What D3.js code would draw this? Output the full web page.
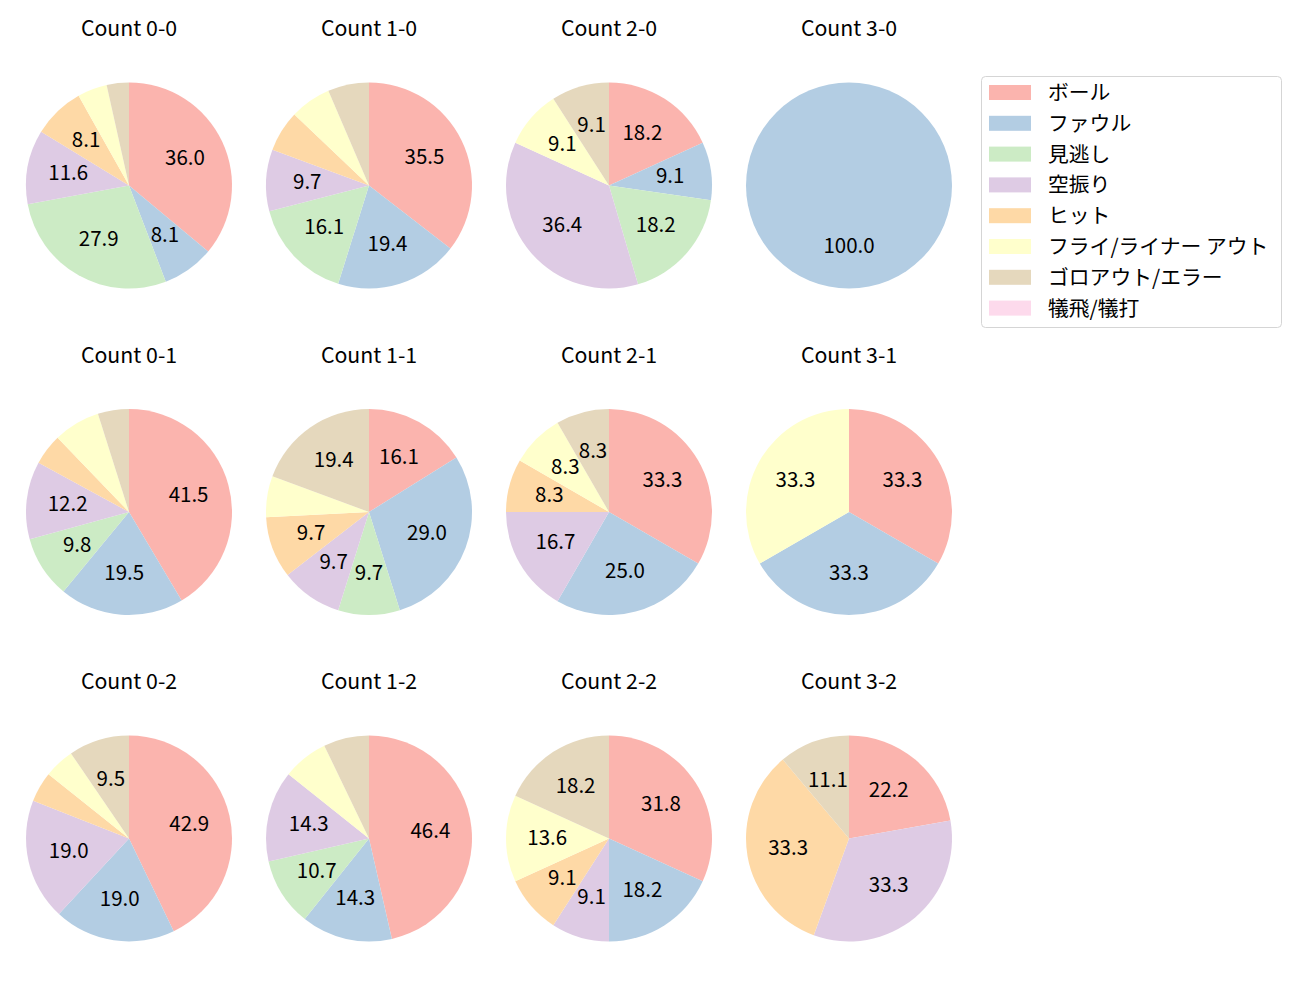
<!DOCTYPE html>
<html>
<head>
<meta charset="utf-8">
<script src="https://cdn.jsdelivr.net/npm/d3@7"></script>
<style>
  body { margin: 0; background: #fff; }
  svg { font-family: "Noto Sans CJK JP", "Noto Sans", sans-serif; }
</style>
</head>
<body>
<svg width="1300" height="1000"></svg>
<script>
// result categories, in pie order
const categories = ['ボール', 'ファウル', '見逃し', '空振り', 'ヒット', 'フライ/ライナー アウト', 'ゴロアウト/エラー', '犠飛/犠打']

// pitch counts (balls-strikes), grid order: rows = strikes, cols = balls
const counts = ['0-0', '1-0', '2-0', '3-0', '0-1', '1-1', '2-1', '3-1', '0-2', '1-2', '2-2', '3-2']

// number of pitches per category for each count
const values = [
  [31, 7, 24, 10, 7, 4, 3, 0],
  [11, 6, 5, 3, 2, 2, 2, 0],
  [2, 1, 2, 4, 0, 1, 1, 0],
  [0, 1, 0, 0, 0, 0, 0, 0],
  [17, 8, 4, 5, 2, 3, 2, 0],
  [5, 9, 3, 3, 3, 2, 6, 0],
  [4, 3, 0, 2, 1, 1, 1, 0],
  [1, 1, 0, 0, 0, 1, 0, 0],
  [9, 4, 0, 4, 1, 1, 2, 0],
  [13, 4, 3, 4, 0, 2, 2, 0],
  [7, 4, 0, 2, 2, 3, 4, 0],
  [2, 0, 0, 3, 3, 0, 1, 0]
]

const svg = d3.select('svg')

const color = d3.scaleOrdinal()
    .domain(categories)
    .range(d3.schemePastel1)

const radius = 103
const colX = d3.scalePoint().domain([0, 1, 2, 3]).range([129, 849])
const rowY = d3.scalePoint().domain([0, 1, 2]).range([185.5, 838.5])

const pie = d3.pie()
    .sort(null)
    .value(d => d.v)

const arc = d3.arc().innerRadius(0).outerRadius(radius)
const labelArc = d3.arc().innerRadius(radius * 0.6).outerRadius(radius * 0.6)

counts.forEach((c, i) => {
    const cx = colX(i % 4)
    const cy = rowY(Math.floor(i / 4))
    const total = d3.sum(values[i])
    const rows = categories.map((k, j) => ({ k: k, v: values[i][j] }))

    const g = svg.append('g')
        .attr('transform', `translate(${cx},${cy})`)

    g.append('text')
        .attr('x', 0)
        .attr('y', -149.5)
        .attr('text-anchor', 'middle')
        .attr('font-size', '21.3px')
        .attr('fill', '#000')
        .text('Count ' + c)

    const slices = pie(rows).filter(d => d.data.v > 0)

    g.selectAll('path').data(slices)
        .enter().append('path')
            .attr('d', arc)
            .attr('fill', d => color(d.data.k))

    // only label the bigger slices
    g.selectAll('text.pct').data(slices.filter(d => d.data.v / total * 100 > 7.5))
        .enter().append('text')
            .attr('class', 'pct')
            .attr('transform', d => `translate(${labelArc.centroid(d)})`)
            .attr('text-anchor', 'middle')
            .attr('dy', '0.3em')
            .attr('font-size', '20.5px')
            .attr('fill', '#000')
            .text(d => (d.data.v / total * 100).toFixed(1))
})

// Legend
const legend = svg.append('g')
    .attr('transform', 'translate(981,76)')

legend.append('rect')
    .attr('x', 0.5)
    .attr('y', 0.5)
    .attr('width', 300)
    .attr('height', 251)
    .attr('rx', 4)
    .attr('fill', 'white')
    .attr('stroke', '#d5d5d5')

const item = legend.selectAll('g.item').data(categories)
    .enter().append('g')
        .attr('class', 'item')
        .attr('transform', (d, i) => `translate(0,${16.5 + i * 30.8})`)

item.append('rect')
    .attr('x', 8)
    .attr('y', -7.5)
    .attr('width', 42)
    .attr('height', 15)
    .attr('fill', d => color(d))

item.append('text')
    .attr('x', 67)
    .attr('dy', '0.36em')
    .attr('font-size', '20.8px')
    .attr('fill', '#000')
    .text(d => d)
</script>
</body>
</html>
